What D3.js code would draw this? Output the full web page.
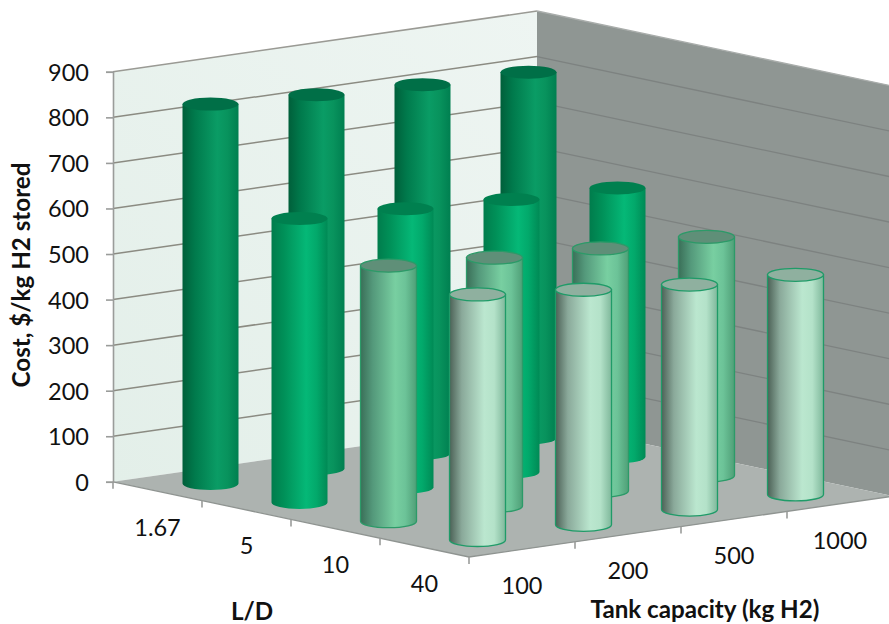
<!DOCTYPE html>
<html>
<head>
<meta charset="utf-8">
<script src="https://cdn.jsdelivr.net/npm/d3@7/dist/d3.min.js"></script>
<style>
  html, body { margin: 0; padding: 0; background: #fff; }
  svg { display: block; }
  text { font-family: Lato, "Open Sans", sans-serif; fill: #111; }
</style>
</head>
<body>
<svg id="chart" width="889" height="624"></svg>
<script>
// Storage cost by tank capacity and vessel aspect ratio
const aspectRatios = ["1.67", "5", "10", "40"];
const capacities = ["100", "200", "500", "1000"];
const costRatio167 = [833, 820, 809, 803];
const costRatio5 = [623, 611, 598, 590];
const costRatio10 = [561, 545, 532, 524];
const costRatio40 = [539, 516, 494, 482];
const valueTicks = [0, 100, 200, 300, 400, 500, 600, 700, 800, 900];
const seriesRows = [costRatio167, costRatio5, costRatio10, costRatio40];

// Side shading and lid colour of the cylinders for each aspect ratio
const rowStyles = [
  { stops: ["#005f3a", "#007a4c", "#0a9c65", "#08935d", "#007f50"], lid: "#006f47", edge: "none" },
  { stops: ["#007c4c", "#009058", "#05b877", "#02a96b", "#008a55"], lid: "#00804f", edge: "none" },
  { stops: ["#3a6f58", "#54997b", "#78cfa1", "#6cc398", "#4f9f77"], lid: "#5f8f78", edge: "#2c9a68" },
  { stops: ["#4c6156", "#8aa99a", "#bbe7cf", "#b4e2c9", "#7fb89b"], lid: "#8fb09f", edge: "#1f9b68" }
];

const svg = d3.select("#chart");

// Oblique projection: the floor is spanned from its front corner by two axes
const frontCorner = { x: 469, y: 557 };
const bandVecCapacity = { x: 106, y: -15.2 };
const bandVecRatio = { x: -89, y: -18.8 };

const capacityScale = d3.scaleBand().domain(capacities).range([0, 4]);
const ratioScale = d3.scaleBand().domain(aspectRatios.slice().reverse()).range([0, 4]);
const heightScale = d3.scaleLinear().domain([0, 900]).range([0, 410]);

function project(u, w, value) {
  return {
    x: frontCorner.x + u * bandVecCapacity.x + w * bandVecRatio.x,
    y: frontCorner.y + u * bandVecCapacity.y + w * bandVecRatio.y - heightScale(value)
  };
}
const poly = pts => pts.map(p => p.x + "," + p.y).join(" ");

const defs = svg.append("defs");
const leftWallGrad = defs.append("linearGradient").attr("id", "leftWall")
  .attr("x1", 0).attr("y1", 1).attr("x2", 1).attr("y2", 0);
leftWallGrad.append("stop").attr("offset", 0).attr("stop-color", "#e3efe9");
leftWallGrad.append("stop").attr("offset", 1).attr("stop-color", "#eef5f2");

rowStyles.forEach((style, r) => {
  const g = defs.append("linearGradient").attr("id", "side" + r)
    .attr("x1", 0).attr("y1", 0).attr("x2", 1).attr("y2", 0);
  [0, 0.22, 0.62, 0.8, 1].forEach((o, i) =>
    g.append("stop").attr("offset", o).attr("stop-color", style.stops[i]));
});

// Walls and floor
const backBottom = project(4, 4, 0);
const backTop = project(4, 4, 900);
const leftBottom = project(0, 4, 0);
const leftTop = project(0, 4, 900);
const rightBottom = project(4, 0, 0);
const rightTop = project(4, 0, 900);
const front = project(0, 0, 0);

svg.append("polygon").attr("points", poly([leftBottom, leftTop, backTop, backBottom]))
  .attr("fill", "url(#leftWall)");
svg.append("polygon").attr("points", poly([backBottom, backTop, rightTop, rightBottom]))
  .attr("fill", "#8f9693");
svg.append("polygon").attr("points", poly([leftBottom, backBottom, rightBottom, front]))
  .attr("fill", "#adb3b0");

// Gridlines run along both walls
valueTicks.forEach(v => {
  if (v === 0) return;
  const a = project(0, 4, v), b = project(4, 4, v), c = project(4, 0, v);
  svg.append("line").attr("x1", a.x).attr("y1", a.y).attr("x2", b.x).attr("y2", b.y)
    .attr("stroke", v === 900 ? "#9a9a94" : "#8b8b82").attr("stroke-width", 1.5);
  svg.append("line").attr("x1", b.x).attr("y1", b.y).attr("x2", c.x).attr("y2", c.y)
    .attr("stroke", v === 900 ? "#a9adab" : "#7d8280").attr("stroke-width", 1.3);
});

// Floor edges
svg.append("polyline").attr("points", poly([leftBottom, front, rightBottom]))
  .attr("fill", "none").attr("stroke", "#8f9491").attr("stroke-width", 1.3);

// Value axis on the left wall edge
const valueAxisScale = d3.scaleLinear().domain([0, 900])
  .range([leftBottom.y, leftTop.y]);
const valueAxis = svg.append("g")
  .attr("transform", `translate(${leftBottom.x},0)`)
  .call(d3.axisLeft(valueAxisScale).tickValues(valueTicks).tickSize(7).tickPadding(17).tickFormat(d3.format("d")));
valueAxis.selectAll("path, line").attr("stroke", "#9a9c9a").attr("stroke-width", 1.6);
valueAxis.selectAll("text").attr("font-size", 23.5).attr("fill", "#111")
  .attr("font-family", "Lato, sans-serif").attr("dy", "0.36em");

// Floor tick marks and labels
const tickLen = 7;
d3.range(0, 5).forEach(k => {
  const a = project(0, k, 0);
  if (k > 0) {
    svg.append("line").attr("x1", a.x).attr("y1", a.y).attr("x2", a.x).attr("y2", a.y + tickLen)
      .attr("stroke", "#9a9c9a").attr("stroke-width", 1.6);
  }
  if (k < 4) {
    const b = project(k, 0, 0);
    svg.append("line").attr("x1", b.x).attr("y1", b.y).attr("x2", b.x).attr("y2", b.y + tickLen)
      .attr("stroke", "#9a9c9a").attr("stroke-width", 1.6);
  }
});

aspectRatios.forEach(label => {
  const p = project(0, ratioScale(label) + ratioScale.bandwidth() / 2, 0);
  svg.append("text").attr("x", p.x).attr("y", p.y + 36).attr("dy", "0.36em")
    .attr("text-anchor", "middle").attr("font-size", 23.5).text(label);
});
capacities.forEach(label => {
  const p = project(capacityScale(label) + capacityScale.bandwidth() / 2, 0, 0);
  svg.append("text").attr("x", p.x).attr("y", p.y + 36.5).attr("dy", "0.36em")
    .attr("text-anchor", "middle").attr("font-size", 23.5).text(label);
});

// Cylinders, drawn from the back row forward
const rx = 28, ry = 6.5;
seriesRows.forEach((values, r) => {
  const style = rowStyles[r];
  const ratio = aspectRatios[r];
  const row = svg.append("g");
  values.forEach((value, j) => {
    const cap = capacities[j];
    const u = capacityScale(cap) + capacityScale.bandwidth() / 2;
    const w = ratioScale(ratio) + ratioScale.bandwidth() / 2;
    const base = project(u, w, 0);
    const top = project(u, w, value);
    row.append("path")
      .attr("d", `M${base.x - rx},${top.y} L${base.x - rx},${base.y} A${rx},${ry} 0 0 0 ${base.x + rx},${base.y} L${base.x + rx},${top.y} Z`)
      .attr("fill", `url(#side${r})`)
      .attr("stroke", style.edge).attr("stroke-width", 1.3);
    row.append("ellipse")
      .attr("cx", base.x).attr("cy", top.y).attr("rx", rx).attr("ry", ry)
      .attr("fill", style.lid)
      .attr("stroke", style.edge).attr("stroke-width", 1.3);
  });
});

// Axis titles
svg.append("text").attr("transform", "translate(30,275) rotate(-90)")
  .attr("text-anchor", "middle").attr("font-size", 24.2).attr("font-weight", 700)
  .text("Cost, $/kg H2 stored");
svg.append("text").attr("x", 252).attr("y", 620)
  .attr("text-anchor", "middle").attr("font-size", 24.2).attr("font-weight", 700).text("L/D");
svg.append("text").attr("x", 705).attr("y", 618)
  .attr("text-anchor", "middle").attr("font-size", 24.2).attr("font-weight", 700).text("Tank capacity (kg H2)");
</script>
</body>
</html>
